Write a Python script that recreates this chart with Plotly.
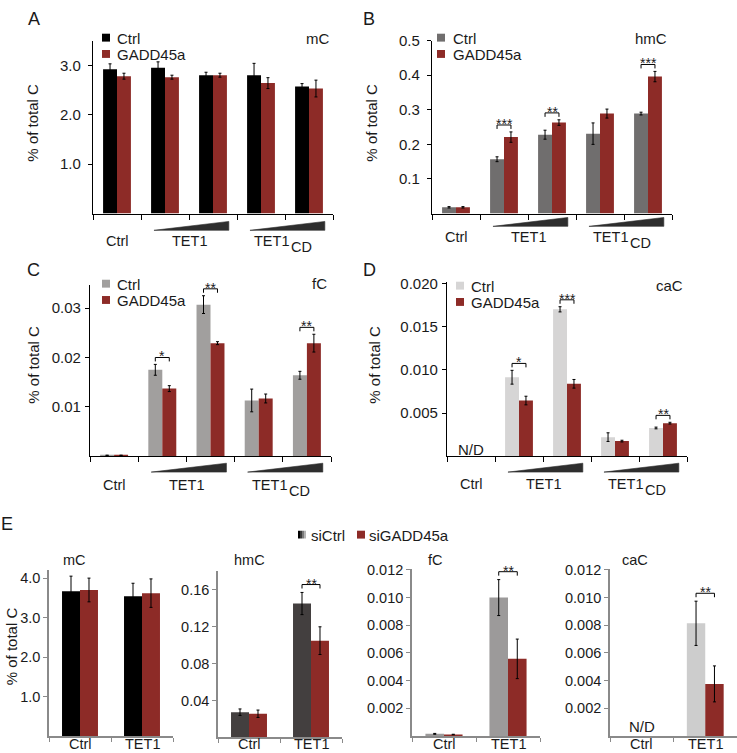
import plotly.graph_objects as go

# ---------------- data ----------------
top_groups = [0, 1, 2, 3, 4]
top_cat_labels = ["Ctrl", "TET1", "TET1"]
top_cat_subs = ["", "", "CD"]
top_cat_pos = [0, 1.5, 3.5]

# Panel A : mC
a_ctrl = [2.92, 2.95, 2.80, 2.80, 2.57]
a_ctrl_err = [0.11, 0.12, 0.06, 0.24, 0.06]
a_gadd = [2.78, 2.76, 2.80, 2.64, 2.53]
a_gadd_err = [0.06, 0.04, 0.04, 0.11, 0.17]
a_ticks = [1.0, 2.0, 3.0]
a_sig = []

# Panel B : hmC
b_ctrl = [0.018, 0.157, 0.228, 0.231, 0.289]
b_ctrl_err = [0.002, 0.007, 0.013, 0.031, 0.004]
b_gadd = [0.018, 0.221, 0.263, 0.289, 0.396]
b_gadd_err = [0.002, 0.015, 0.008, 0.013, 0.015]
b_ticks = [0.1, 0.2, 0.3, 0.4, 0.5]
b_sig = [(1, "***"), (2, "**"), (4, "***")]

# Panel C : fC
c_ctrl = [0.0002, 0.0175, 0.0307, 0.0113, 0.0164]
c_ctrl_err = [0.0, 0.0011, 0.0018, 0.0023, 0.0008]
c_gadd = [0.0002, 0.0137, 0.0229, 0.0117, 0.0229]
c_gadd_err = [0.0, 0.0006, 0.0003, 0.0009, 0.0018]
c_ticks = [0.01, 0.02, 0.03]
c_sig = [(1, "*"), (2, "**"), (4, "**")]

# Panel D : caC
d_ctrl = [None, 0.00916, 0.01703, 0.00222, 0.00328]
d_ctrl_err = [0.0, 0.0008, 0.0003, 0.0005, 0.0001]
d_gadd = [None, 0.00646, 0.0084, 0.00176, 0.00384]
d_gadd_err = [0.0, 0.0005, 0.0005, 0.0001, 0.0001]
d_ticks = [0.005, 0.010, 0.015, 0.020]
d_sig = [(1, "*"), (2, "***"), (4, "**")]

# Panel E
e_groups = [0, 1]
e_cats = ["Ctrl", "TET1"]
e_mc_ctrl = [3.67, 3.54]
e_mc_ctrl_err = [0.38, 0.33]
e_mc_gadd = [3.70, 3.62]
e_mc_gadd_err = [0.30, 0.36]
e_mc_ticks = [1.0, 2.0, 3.0, 4.0]

e_hmc_ctrl = [0.0274, 0.145]
e_hmc_ctrl_err = [0.0035, 0.012]
e_hmc_gadd = [0.0257, 0.1048]
e_hmc_gadd_err = [0.004, 0.015]
e_hmc_ticks = [0.04, 0.08, 0.12, 0.16]

e_fc_ctrl = [0.00015, 0.0100]
e_fc_ctrl_err = [0.00003, 0.0013]
e_fc_gadd = [0.0001, 0.00557]
e_fc_gadd_err = [0.00002, 0.00143]
e_fc_ticks = [0.002, 0.004, 0.006, 0.008, 0.010, 0.012]

e_cac_ctrl = [None, 0.00814]
e_cac_ctrl_err = [0.0, 0.0016]
e_cac_gadd = [None, 0.00376]
e_cac_gadd_err = [0.0, 0.0013]
e_cac_ticks = [0.002, 0.004, 0.006, 0.008, 0.010, 0.012]

# ---------------- style / layout helpers ----------------
W, H = 737, 753
FONT = "Liberation Sans, Arial, sans-serif"
TXT = "#1a1a1a"
RED = "#8d2b27"


def py(y):
    return 1 - y / H


def pxf(x):
    return x / W


panels = [
    dict(n=1, letter="A", title="mC", x0=93, x1=333, ytop=32, ybot=207, ymax=3.5,
         groups=top_groups, ctrl=a_ctrl, ce=a_ctrl_err, gadd=a_gadd, ge=a_gadd_err,
         ticks=a_ticks, fmt=".1f", sig=a_sig, ccol="#000000", big=True, stand=4,
         letter_pos=(34, 10), title_pos=(317, 30), ylab=(33, 115), leg=(102, 25, 116),
         legtxt=("Ctrl", "GADD45a"), tri=(8, 17), catY=235, ND=None),
    dict(n=2, letter="B", title="hmC", x0=432, x1=672, ytop=32, ybot=207, ymax=0.5,
         groups=top_groups, ctrl=b_ctrl, ce=b_ctrl_err, gadd=b_gadd, ge=b_gadd_err,
         ticks=b_ticks, fmt=".1f", sig=b_sig, ccol="#706e6e", big=True, stand=4,
         letter_pos=(369, 10), title_pos=(651, 30), ylab=(372, 115), leg=(437, 25, 452),
         legtxt=("Ctrl", "GADD45a"), tri=(4, 13), catY=231, ND=None),
    dict(n=3, letter="C", title="fC", x0=90, x1=331, ytop=279, ybot=452.7, ymax=0.03474,
         groups=top_groups, ctrl=c_ctrl, ce=c_ctrl_err, gadd=c_gadd, ge=c_gadd_err,
         ticks=c_ticks, fmt=".2f", sig=c_sig, ccol="#a19f9e", big=True, stand=1,
         letter_pos=(33, 264), title_pos=(319, 278), ylab=(34, 360), leg=(102, 274, 116),
         legtxt=("Ctrl", "GADD45a"), tri=(7, 16), catY=482, ND=None),
    dict(n=4, letter="D", title="caC", x0=447, x1=687, ytop=276, ybot=452.7, ymax=0.02023,
         groups=top_groups, ctrl=d_ctrl, ce=d_ctrl_err, gadd=d_gadd, ge=d_gadd_err,
         ticks=d_ticks, fmt=".3f", sig=d_sig, ccol="#d6d5d5", big=True, stand=1,
         letter_pos=(369, 264), title_pos=(669, 280), ylab=(375, 360), leg=(456, 276, 470),
         legtxt=("Ctrl", "GADD45a"), tri=(7, 16), catY=481, ND=(0, 445.5)),
    dict(n=5, letter="E", title="mC", x0=49, x1=173, ytop=568, ybot=736, ymax=4.2,
         groups=e_groups, ctrl=e_mc_ctrl, ce=e_mc_ctrl_err, gadd=e_mc_gadd, ge=e_mc_gadd_err,
         ticks=e_mc_ticks, fmt=".1f", sig=[], ccol="#000000", big=False, stand=0,
         letter_pos=(7, 521), title_pos=(74, 558), ylab=(11, 645), leg=None,
         legtxt=("siCtrl", "siGADD45a"), tri=None, catY=None, ND=None),
    dict(n=6, letter=None, title="hmC", x0=218, x1=342, ytop=569, ybot=737.3, ymax=0.18,
         groups=e_groups, ctrl=e_hmc_ctrl, ce=e_hmc_ctrl_err, gadd=e_hmc_gadd, ge=e_hmc_gadd_err,
         ticks=e_hmc_ticks, fmt=".2f", sig=[(1, "**")], ccol="#433f3f", big=False, stand=0,
         letter_pos=None, title_pos=(249, 558), ylab=None, leg=None,
         legtxt=("siCtrl", "siGADD45a"), tri=None, catY=None, ND=None),
    dict(n=7, letter=None, title="fC", x0=412, x1=540, ytop=566.3, ybot=735.7, ymax=0.0121,
         groups=e_groups, ctrl=e_fc_ctrl, ce=e_fc_ctrl_err, gadd=e_fc_gadd, ge=e_fc_gadd_err,
         ticks=e_fc_ticks, fmt=".3f", sig=[(1, "**")], ccol="#9c9a9a", big=False, stand=0,
         letter_pos=None, title_pos=(435, 558), ylab=None, leg=None,
         legtxt=("siCtrl", "siGADD45a"), tri=None, catY=None, ND=None),
    dict(n=8, letter=None, title="caC", x0=610, x1=737, ytop=566.3, ybot=735.7, ymax=0.0121,
         groups=e_groups, ctrl=e_cac_ctrl, ce=e_cac_ctrl_err, gadd=e_cac_gadd, ge=e_cac_gadd_err,
         ticks=e_cac_ticks, fmt=".3f", sig=[(1, "**")], ccol="#cdcdcd", big=False, stand=0,
         letter_pos=None, title_pos=(635, 558), ylab=None, leg=None,
         legtxt=("siCtrl", "siGADD45a"), tri=None, catY=None, ND=(0, 726)),
]

fig = go.Figure()
shapes = []
annotations = []
layout = dict(
    width=W, height=H, margin=dict(l=0, r=0, t=0, b=0),
    paper_bgcolor="white", plot_bgcolor="white",
    barmode="group", bargap=0.42, bargroupgap=0.0,
    showlegend=False, font=dict(family=FONT, color=TXT, size=14),
)


def ann(text, x, y, size=14.5, xref="paper", yref="paper", xanchor="center",
        yanchor="middle", angle=0, xshift=0, yshift=0):
    annotations.append(dict(text=text, x=x, y=y, xref=xref, yref=yref, showarrow=False,
                            xanchor=xanchor, yanchor=yanchor, textangle=angle,
                            xshift=xshift, yshift=yshift, borderpad=0,
                            font=dict(family=FONT, size=size, color=TXT)))


for p in panels:
    n = p["n"]
    xs = "x" if n == 1 else f"x{n}"
    ys = "y" if n == 1 else f"y{n}"
    xk = "xaxis" if n == 1 else f"xaxis{n}"
    yk = "yaxis" if n == 1 else f"yaxis{n}"
    ng = len(p["groups"])
    big = p["big"]
    lc = "#000000" if big else "#8a8a8a"
    lw = 1.2 if big else 1.6
    tfs = 15 if big else 14.5

    for vals, errs, col, name in [(p["ctrl"], p["ce"], p["ccol"], p["legtxt"][0]),
                                  (p["gadd"], p["ge"], RED, p["legtxt"][1])]:
        fig.add_trace(go.Bar(
            x=p["groups"], y=vals, name=name, xaxis=xs, yaxis=ys,
            marker=dict(color=col, line=dict(width=0)),
            error_y=dict(type="data", array=errs, visible=True, color="#000000",
                         thickness=1, width=1.5),
            showlegend=False,
        ))

    bounds = [g - 0.5 for g in p["groups"]] + [p["groups"][-1] + 0.5]
    xa = dict(domain=[pxf(p["x0"]), pxf(p["x1"])], anchor=ys, range=[-0.5, ng - 0.5],
              showline=True, linecolor=lc, linewidth=lw, showgrid=False, zeroline=False,
              fixedrange=True, tickvals=bounds, ticktext=[""] * len(bounds),
              ticks="outside", ticklen=5 if big else 4, tickcolor=lc, tickwidth=1)
    layout[xk] = xa
    layout[yk] = dict(domain=[py(p["ybot"]), py(p["ytop"])], anchor=xs,
                      range=[0, p["ymax"]], showline=True, linecolor=lc, linewidth=lw,
                      showgrid=False, zeroline=False, ticks="outside", ticklen=4,
                      tickcolor=lc, tickwidth=1, tickvals=p["ticks"],
                      tickformat=p["fmt"], ticklabelstandoff=p["stand"],
                      tickfont=dict(family=FONT, size=tfs, color=TXT), fixedrange=True)

    scale = (p["ybot"] - p["ytop"]) / p["ymax"]

    # significance brackets
    for g, stars in p["sig"]:
        top = max((p["ctrl"][g] or 0) + p["ce"][g], (p["gadd"][g] or 0) + p["ge"][g])
        yb = top + (7 if big else 8) / scale
        tk = 4 / scale
        xl, xr = g - 0.145, g + 0.145
        shapes.append(dict(type="path", xref=xs, yref=ys,
                           path=f"M {xl},{yb - tk} L {xl},{yb} L {xr},{yb} L {xr},{yb - tk}",
                           line=dict(color="#000000", width=1)))
        ann(stars, g, yb, size=14, xref=xs, yref=ys, yanchor="bottom", yshift=-8)

    # titles / letters / y labels
    ann(p["title"], pxf(p["title_pos"][0]), py(p["title_pos"][1]), size=15 if big else 14.5)
    if p["letter"]:
        ann(p["letter"], pxf(p["letter_pos"][0]), py(p["letter_pos"][1]), size=18)
    if p["ylab"]:
        ann("% of total C", pxf(p["ylab"][0]), py(p["ylab"][1]), size=15, angle=-90)
    if p["ND"]:
        ann("N/D", p["ND"][0], py(p["ND"][1]), size=15, xref=xs)

    # legend
    if p["leg"]:
        lx, ly, tx = p["leg"]
        for i, col in enumerate([p["ccol"], RED]):
            y0 = ly + i * 16.5
            shapes.append(dict(type="rect", xref="paper", yref="paper",
                               x0=pxf(lx), x1=pxf(lx + 8), y0=py(y0 + 8), y1=py(y0),
                               fillcolor=col, line=dict(width=0)))
            ann(p["legtxt"][i], pxf(tx), py(y0 + 4.5), size=15, xanchor="left")

    if big:
        # category labels and wedges for top panels
        for lab, sub, pos in zip(top_cat_labels, top_cat_subs, top_cat_pos):
            if sub:
                ann(lab, pos, py(p["catY"]), size=14.5, xref=xs, xanchor="right", xshift=5)
                ann(sub, pos, py(p["catY"] + 6), size=14.5, xref=xs, xanchor="left", xshift=5)
            else:
                ann(lab, pos, py(p["catY"]), size=14.5, xref=xs)
        t0, t1 = p["tri"]
        for a, b in [(0.77, 2.33), (2.77, 4.33)]:
            yb_ = py(p["ybot"] + t1)
            yt_ = py(p["ybot"] + t0)
            shapes.append(dict(type="path", xref=xs, yref="paper",
                               path=f"M {a},{yb_} L {b},{yt_} L {b},{yb_} Z",
                               fillcolor="#2e2e2e", line=dict(color="#2e2e2e", width=0.6)))
    else:
        for g, lab in zip(p["groups"], e_cats):
            ann(lab, g, 0, size=14.5, xref=xs, yanchor="bottom")

# Panel E legend
grad = ["#000000", "#3a3a3a", "#7a7a7a", "#b5b5b5"]
for i, col in enumerate(grad):
    shapes.append(dict(type="rect", xref="paper", yref="paper",
                       x0=pxf(298 + 2 * i), x1=pxf(300 + 2 * i), y0=py(536), y1=py(528),
                       fillcolor=col, line=dict(width=0)))
ann("siCtrl", pxf(310), py(532.5), size=15, xanchor="left")
shapes.append(dict(type="rect", xref="paper", yref="paper",
                   x0=pxf(357), x1=pxf(365), y0=py(536), y1=py(528),
                   fillcolor=RED, line=dict(width=0)))
ann("siGADD45a", pxf(368), py(532.5), size=15, xanchor="left")

layout["shapes"] = shapes
layout["annotations"] = annotations
fig.update_layout(**layout)
fig.write_html("out.html", config={"displayModeBar": False},
               post_script="document.body.style.margin='0px';document.body.style.overflow='hidden';")
